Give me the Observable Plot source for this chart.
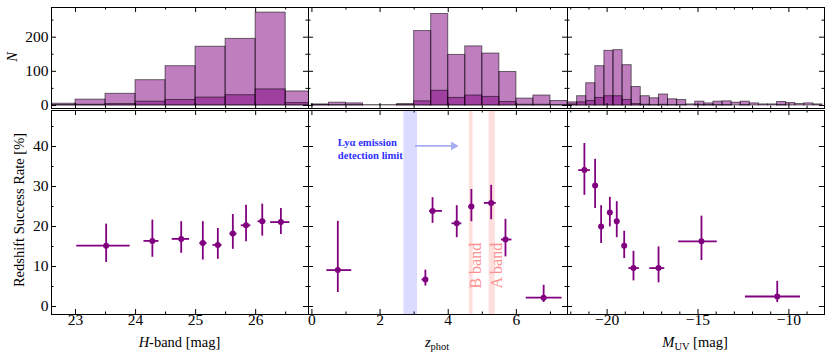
<!DOCTYPE html>
<html><head><meta charset="utf-8">
<script src="https://cdn.jsdelivr.net/npm/d3@7"></script>
<script src="https://cdn.jsdelivr.net/npm/@observablehq/plot@0.6"></script>
<style>
body{margin:0;background:#fff;}
#fig{position:relative;width:831px;height:358px;overflow:hidden;font-family:'Liberation Serif','Times New Roman',serif;color:#000;background:#fff;}
#fig svg{position:absolute;left:0;top:0;}
.lab{position:absolute;font-size:14.5px;white-space:nowrap;line-height:1;transform:translate(-50%,-50%);}
.lab.rot{transform:translate(-50%,-50%) rotate(-90deg);}
.lab sub{font-size:0.72em;vertical-align:-0.3em;line-height:0;}
</style></head><body><div id="fig"></div>
<script>
// ---------- histogram data (bin edges, all targets, successful) ----------
const hEdges = [22.5, 23, 23.5, 24, 24.5, 25, 25.5, 26, 26.5, 27];
const hAll   = [5, 17, 34, 74, 115, 172, 195, 272, 41];
const hSucc  = [1, 2, 4, 11, 16, 23, 30, 47, 7];

const zEdges = [0, 0.5, 1, 1.5, 2, 2.5, 3, 3.5, 4, 4.5, 5, 5.5, 6, 6.5, 7, 7.5];
const zAll   = [3, 8, 6, 1, 1, 4, 218, 268, 148, 173, 152, 98, 20, 29, 13];
const zSucc  = [1, 1, 1, 0, 0, 1, 12, 43, 22, 29, 25, 10, 2, 2, 1];

const mEdges = [-22.15, -21.65, -21.15, -20.65, -20.15, -19.65, -19.15, -18.65, -18.15, -17.65,
                -17.15, -16.65, -16.15, -15.65, -15.15, -14.65, -14.15, -13.65, -13.15, -12.65,
                -12.15, -11.65, -11.15, -10.65, -10.15, -9.65, -9.15, -8.65, -8.15];
const mAll   = [9, 27, 65, 115, 160, 162, 118, 54, 27, 21, 32, 18, 16, 3, 11, 6, 11, 12, 8, 11, 6, 3, 3, 10, 7, 4, 6, 3];
const mSucc  = [3, 9, 13, 22, 27, 27, 16, 4, 2, 1, 2, 1, 1, 0, 1, 1, 1, 1, 0, 1, 0, 0, 0, 1, 0, 0, 0, 0];

// ---------- success rate data ----------
const hMag     = [23.51, 24.28, 24.76, 25.12, 25.37, 25.62, 25.84, 26.11, 26.42];
const hMagLo   = [23.02, 24.14, 24.61, 25.07, 25.29, 25.57, 25.76, 26.04, 26.25];
const hMagHi   = [23.91, 24.39, 24.90, 25.19, 25.44, 25.69, 25.92, 26.17, 26.57];
const hRate    = [15.2, 16.4, 16.9, 15.9, 15.4, 18.25, 20.3, 21.3, 21.1];
const hRateLo  = [11.0, 12.3, 13.3, 11.6, 11.8, 14.3, 16.2, 17.6, 18.0];
const hRateHi  = [20.6, 21.6, 21.2, 21.2, 19.5, 23.0, 25.3, 25.6, 24.5];

const zPhot    = [0.76, 3.33, 3.54, 4.25, 4.68, 5.26, 5.68, 6.80];
const zPhotLo  = [0.44, 3.23, 3.45, 4.11, 4.60, 5.06, 5.56, 6.29];
const zPhotHi  = [1.17, 3.42, 3.83, 4.40, 4.75, 5.41, 5.87, 7.34];
const zRate    = [9.1, 6.75, 23.9, 20.8, 25.0, 25.9, 16.75, 2.2];
const zRateLo  = [3.5, 5.1, 20.8, 17.2, 21.2, 21.7, 12.4, 1.0];
const zRateHi  = [21.3, 9.1, 27.2, 25.2, 29.25, 30.3, 21.8, 5.3];

const muv      = [-21.25, -20.66, -20.33, -19.85, -19.47, -19.06, -18.55, -17.17, -14.81, -10.64];
const muvLo    = [-21.56, -20.70, -20.36, -19.88, -19.50, -19.09, -18.80, -17.65, -16.06, -12.39];
const muvHi    = [-20.92, -20.62, -20.30, -19.82, -19.44, -19.03, -18.22, -16.83, -13.94, -9.36];
const muvRate  = [34.1, 30.25, 20.0, 23.5, 21.3, 15.2, 9.6, 9.6, 16.3, 2.5];
const muvRateLo= [27.8, 24.5, 15.75, 19.9, 17.2, 12.0, 6.4, 5.9, 11.5, 1.0];
const muvRateHi= [40.75, 36.8, 25.2, 27.3, 26.2, 18.8, 13.8, 14.9, 22.6, 6.3];

// ---------- annotation values (data units) ----------
const lyaBand = [2.7, 3.1];
const bBand = [4.62, 4.73];
const aBand = [5.2, 5.38];
const lyaArrow = {x1: 3.16, x2: 4.26, y: 40.15};
const lyaText = {x: 0.76, y: 39.5, text: "Lyα emission\ndetection limit"};
const bandText = [{x: 4.80, y: 10.2, text: "B band"}, {x: 5.44, y: 10.2, text: "A band"}];

// ---------- ticks ----------
const hMajor = [23, 24, 25, 26], hMinor = [23.5, 24.5, 25.5, 26.5];
const zMajor = [0, 2, 4, 6], zMinor = [1, 3, 5, 7];
const mMajor = [-20, -15, -10], mMinor = [-22, -21, -19, -18, -17, -16, -14, -13, -12, -11, -9];
const nMajor = [0, 100, 200], nMinor = [50, 150, 250];
const rMajor = [0, 10, 20, 30, 40], rMinor = [5, 15, 25, 35, 45];

// ---------- layout ----------
const W = 831, H = 358;
const purple = "#800080";
const fmt = d3.format("d");
const cols = [{left: 51, right: 308}, {left: 308, right: 567}, {left: 567, right: 824}];
const rowTop = {top: 7, bottom: 108}, rowBot = {top: 110, bottom: 314};
const xDomains = [[22.6, 26.88], [-0.1, 7.5], [-22.18, -8.04]];
const yTop = [-9, 287], yBot = [-2, 49];

const bins = (edges, counts) => counts.map((n, i) => ({x1: edges[i], x2: edges[i + 1], n}));
const rows = (x, xlo, xhi, y, ylo, yhi) => x.map((v, i) => ({x: v, xlo: xlo[i], xhi: xhi[i], y: y[i], ylo: ylo[i], yhi: yhi[i]}));

function panel({col, row, xDomain, yDomain, xMajor, xMinor, yMajor, yMinor, xLabels, yLabels, marks}) {
  const box = {left: col.left, right: col.right, top: row.top, bottom: row.bottom};
  const pw = box.right - box.left, ph = box.bottom - box.top;
  const MJ = 5, MN = 2.5;
  const tk = [];
  for (const [vals, len] of [[xMajor, MJ], [xMinor, MN]]) {
    tk.push(Plot.tickX(vals, {x: d => d, insetTop: ph - len, stroke: "#000"}));
    tk.push(Plot.tickX(vals, {x: d => d, insetBottom: ph - len, stroke: "#000"}));
  }
  for (const [vals, len] of [[yMajor, MJ], [yMinor, MN]]) {
    tk.push(Plot.tickY(vals, {y: d => d, insetRight: pw - len, stroke: "#000"}));
    tk.push(Plot.tickY(vals, {y: d => d, insetLeft: pw - len, stroke: "#000"}));
  }
  const labs = [];
  if (xLabels) labs.push(Plot.text(xMajor, {x: d => d, frameAnchor: "bottom", dy: 10, text: d => fmt(d), fontSize: 15.5, fill: "#000"}));
  if (yLabels) labs.push(Plot.text(yMajor, {y: d => d, frameAnchor: "left", textAnchor: "end", dx: -3, text: d => fmt(d), fontSize: 15.5, fill: "#000"}));
  return Plot.plot({
    width: W, height: H,
    marginLeft: box.left, marginRight: W - box.right, marginTop: box.top, marginBottom: H - box.bottom,
    x: {domain: xDomain, axis: null}, y: {domain: yDomain, axis: null},
    style: {background: "transparent", fontFamily: "'Liberation Serif', serif", fontSize: "15px", overflow: "visible", maxWidth: "none"},
    marks: [...marks, ...tk, Plot.frame({stroke: "#000", strokeWidth: 1}), ...labs]
  });
}

function histMarks(edges, all, succ) {
  const o = {x1: "x1", x2: "x2", y1: 0, y2: "n", fill: purple, fillOpacity: 0.5, stroke: "#000", strokeOpacity: 0.55, strokeWidth: 1, clip: true};
  return [Plot.rect(bins(edges, all), o), Plot.rect(bins(edges, succ), o)];
}
function errMarks(d) {
  return [
    Plot.ruleY(d, {y: "y", x1: "xlo", x2: "xhi", stroke: purple, strokeWidth: 1.8}),
    Plot.ruleX(d, {x: "x", y1: "ylo", y2: "yhi", stroke: purple, strokeWidth: 1.8}),
    Plot.dot(d, {x: "x", y: "y", r: 3, fill: purple, stroke: "none"})
  ];
}

const fig = document.getElementById("fig");
const tickSets = [[hMajor, hMinor], [zMajor, zMinor], [mMajor, mMinor]];
const hists = [histMarks(hEdges, hAll, hSucc), histMarks(zEdges, zAll, zSucc), histMarks(mEdges, mAll, mSucc)];
const pts = [
  rows(hMag, hMagLo, hMagHi, hRate, hRateLo, hRateHi),
  rows(zPhot, zPhotLo, zPhotHi, zRate, zRateLo, zRateHi),
  rows(muv, muvLo, muvHi, muvRate, muvRateLo, muvRateHi)
];

const arrowColor = "#a6acf4";
const extra = [
  Plot.rect([{x1: lyaBand[0], x2: lyaBand[1]}], {x1: "x1", x2: "x2", fill: "#0000ff", fillOpacity: 0.14}),
  Plot.rect([{x1: bBand[0], x2: bBand[1]}, {x1: aBand[0], x2: aBand[1]}], {x1: "x1", x2: "x2", fill: "#ff0000", fillOpacity: 0.13}),
  Plot.ruleY([lyaArrow], {y: "y", x1: "x1", x2: "x2", stroke: arrowColor, strokeWidth: 1.8, dx: -4}),
  Plot.dot([lyaArrow], {x: "x2", y: "y", symbol: "triangle2", rotate: 90, r: 4.2, fill: arrowColor, stroke: "none", dx: -3.5}),
  Plot.text([lyaText], {x: "x", y: "y", text: "text", textAnchor: "start", fill: "#2f2fff", fontSize: 10.6, fontWeight: "bold", lineHeight: 1.25}),
  Plot.text(bandText, {x: "x", y: "y", text: "text", rotate: -90, fill: "#ff8f8f", fontSize: 16})
];

for (let i = 0; i < 3; i++) {
  fig.appendChild(panel({col: cols[i], row: rowTop, xDomain: xDomains[i], yDomain: yTop,
    xMajor: tickSets[i][0], xMinor: tickSets[i][1], yMajor: nMajor, yMinor: nMinor,
    xLabels: false, yLabels: i === 0, marks: hists[i]}));
  fig.appendChild(panel({col: cols[i], row: rowBot, xDomain: xDomains[i], yDomain: yBot,
    xMajor: tickSets[i][0], xMinor: tickSets[i][1], yMajor: rMajor, yMinor: rMinor,
    xLabels: true, yLabels: i === 0, marks: [...(i === 1 ? extra : []), ...errMarks(pts[i])]}));
}

const labels = [
  {html: "<i>N</i>", x: 11.5, y: 57, rot: true},
  {html: "Redshift Success Rate [%]", x: 19, y: 210, rot: true},
  {html: "<i>H</i>-band [mag]", x: 179.5, y: 342},
  {html: "<i>z</i><sub>phot</sub>", x: 437, y: 342},
  {html: "<i>M</i><sub>UV</sub> [mag]", x: 695, y: 342}
];
for (const l of labels) {
  const d = document.createElement("div");
  d.className = "lab" + (l.rot ? " rot" : "");
  d.style.left = l.x + "px";
  d.style.top = l.y + "px";
  d.innerHTML = l.html;
  fig.appendChild(d);
}
</script></body></html>
